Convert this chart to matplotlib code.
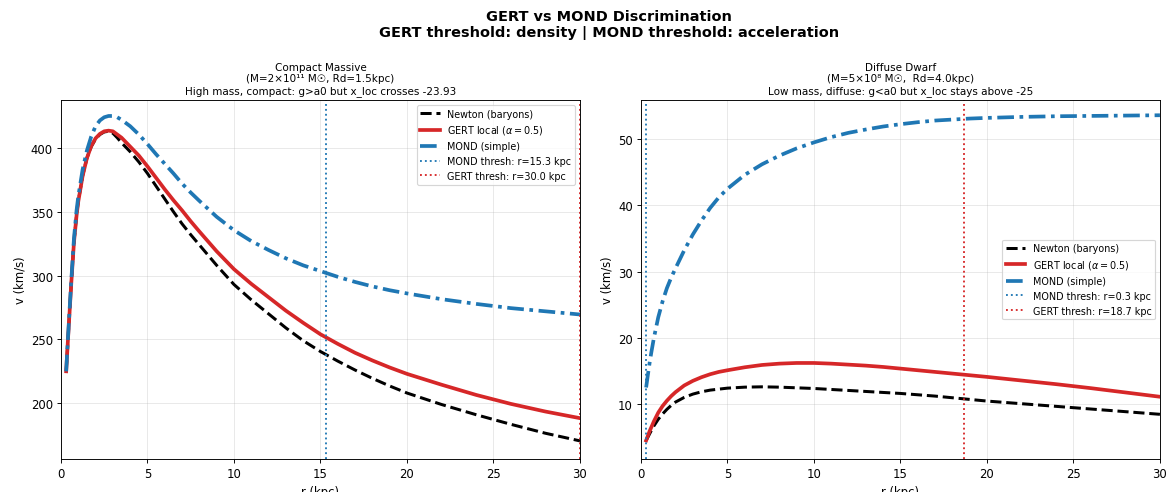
import numpy as np
import matplotlib.pyplot as plt

# Rotation curves in km/s at the listed radii (kpc)
r_compact = [0.3, 0.4, 0.5, 0.6, 0.75, 0.9, 1.0, 1.25, 1.5, 1.75, 2.0, 2.25, 2.5, 2.75,
             3.0, 3.25, 3.5, 4.0, 4.5, 5.0, 5.5, 6.0, 6.5, 7.0, 7.5, 8.0, 9.0, 10,
             11, 12, 13, 14, 15, 16, 17, 18, 19, 20, 22, 24, 26, 28, 30]
v_newton_compact = [225, 249, 272, 295, 326, 347, 358, 378, 392, 401, 407, 410.5, 412.5, 413,
                    411.5, 408, 404, 397, 389, 380, 370, 360, 350, 340.5, 332, 324, 308, 293,
                    281, 270, 259, 249, 240.5, 233, 226, 219.5, 213.5, 208, 199, 191, 183.5, 176.5, 170.5]
v_gert_compact = [225, 249, 272, 295, 326, 347, 358, 378, 392, 401.5, 407.5, 411, 413, 413.5,
                  413, 410.5, 408, 401, 394, 385.5, 376.5, 367.5, 359, 351, 342.5, 334.5, 319, 305,
                  293.5, 283, 272.5, 263, 254, 246.5, 239.5, 233.5, 228, 223, 214.5, 206.5, 199.5, 193.5, 188.3]
v_mond_compact = [225, 250, 274, 297, 329, 351, 362, 383, 398, 409, 417, 421.5, 424, 425,
                  425, 424, 422, 417, 410.5, 403, 395, 387.5, 380, 372, 365, 358.5, 346, 335.5,
                  327, 320, 313.5, 308, 303.5, 299, 295, 291.5, 288.5, 286, 281.5, 277.8, 274.5, 272, 269.5]

r_dwarf = [0.3, 0.4, 0.5, 0.6, 0.75, 1.0, 1.25, 1.5, 1.75, 2.0, 2.5, 3.0, 3.5, 4.0, 4.5, 5.0,
           6.0, 7.0, 8.0, 9.0, 10, 11, 12, 13, 14, 15, 16, 17, 18, 19, 20, 22, 24, 26, 28, 30]
v_newton_dwarf = [4.5, 5.0, 5.5, 6.0, 6.7, 7.7, 8.5, 9.2, 9.8, 10.3, 11.0, 11.5, 11.85, 12.1, 12.25, 12.4,
                  12.55, 12.6, 12.55, 12.45, 12.35, 12.2, 12.05, 11.9, 11.75, 11.6, 11.4, 11.2, 10.95,
                  10.7, 10.45, 10.05, 9.65, 9.25, 8.85, 8.45]
v_gert_dwarf = [4.5, 5.2, 5.9, 6.5, 7.4, 8.7, 9.7, 10.5, 11.2, 11.8, 12.8, 13.5, 14.05, 14.5, 14.85, 15.1,
                15.55, 15.9, 16.1, 16.2, 16.2, 16.1, 15.95, 15.8, 15.6, 15.35, 15.1, 14.85, 14.6,
                14.35, 14.1, 13.55, 13.0, 12.4, 11.75, 11.1]
v_mond_dwarf = [12.5, 14.4, 16.2, 17.8, 20.0, 23.1, 25.5, 27.5, 29.1, 30.5, 33.2, 35.6, 37.7, 39.6, 41.2, 42.5,
                44.6, 46.2, 47.5, 48.6, 49.5, 50.3, 50.95, 51.45, 51.9, 52.25, 52.55, 52.8, 52.95,
                53.1, 53.2, 53.35, 53.45, 53.5, 53.55, 53.6]

mond_thresh = [15.3, 0.3]
gert_thresh = [30.0, 18.7]

titles = ["Compact Massive\n(M=2\u00d710\u00b9\u00b9 M\u2609, Rd=1.5kpc)\n"
          "High mass, compact: g>a0 but x_loc crosses -23.93",
          "Diffuse Dwarf\n(M=5\u00d710\u2078 M\u2609,  Rd=4.0kpc)\n"
          "Low mass, diffuse: g<a0 but x_loc stays above -25"]

panels = [
    (r_compact, v_newton_compact, v_gert_compact, v_mond_compact, (156.3, 437.5), 'upper right'),
    (r_dwarf, v_newton_dwarf, v_gert_dwarf, v_mond_dwarf, (1.7, 55.9), 'center right'),
]

dpi = 1166 / 14
fig = plt.figure(figsize=(14, 493 / dpi), dpi=dpi)
fig.suptitle("GERT vs MOND Discrimination\nGERT threshold: density | MOND threshold: acceleration",
             fontsize=12.5, fontweight='bold', x=0.522, y=0.98)

lefts = [0.0523, 0.5497]
for i, (r, vn, vg, vm, ylim, loc) in enumerate(panels):
    ax = fig.add_axes([lefts[i], 0.0669, 0.4451, 0.7282])
    ax.plot(r, vn, color='k', ls='--', lw=2.6, label='Newton (baryons)')
    ax.plot(r, vg, color='#d62728', lw=3.2, label=r'GERT local ($\alpha=0.5$)')
    ax.plot(r, vm, color='#1f77b4', lw=3.2, ls='-.', dashes=(4.5, 1.5, 1.0, 1.5),
            label='MOND (simple)')
    ax.axvline(mond_thresh[i], color='#1f77b4', ls=':', lw=1.6,
               label=f'MOND thresh: r={mond_thresh[i]:.1f} kpc')
    ax.axvline(gert_thresh[i], color='#d62728', ls=':', lw=1.6,
               label=f'GERT thresh: r={gert_thresh[i]:.1f} kpc')
    ax.set_xlim(0, 30)
    ax.set_ylim(*ylim)
    ax.set_xlabel('r (kpc)')
    ax.set_ylabel('v (km/s)')
    ax.set_title(titles[i], fontsize=9)
    ax.grid(True, alpha=0.3)
    ax.legend(loc=loc, fontsize=8.3)

fig.savefig('out.png', dpi=dpi)
